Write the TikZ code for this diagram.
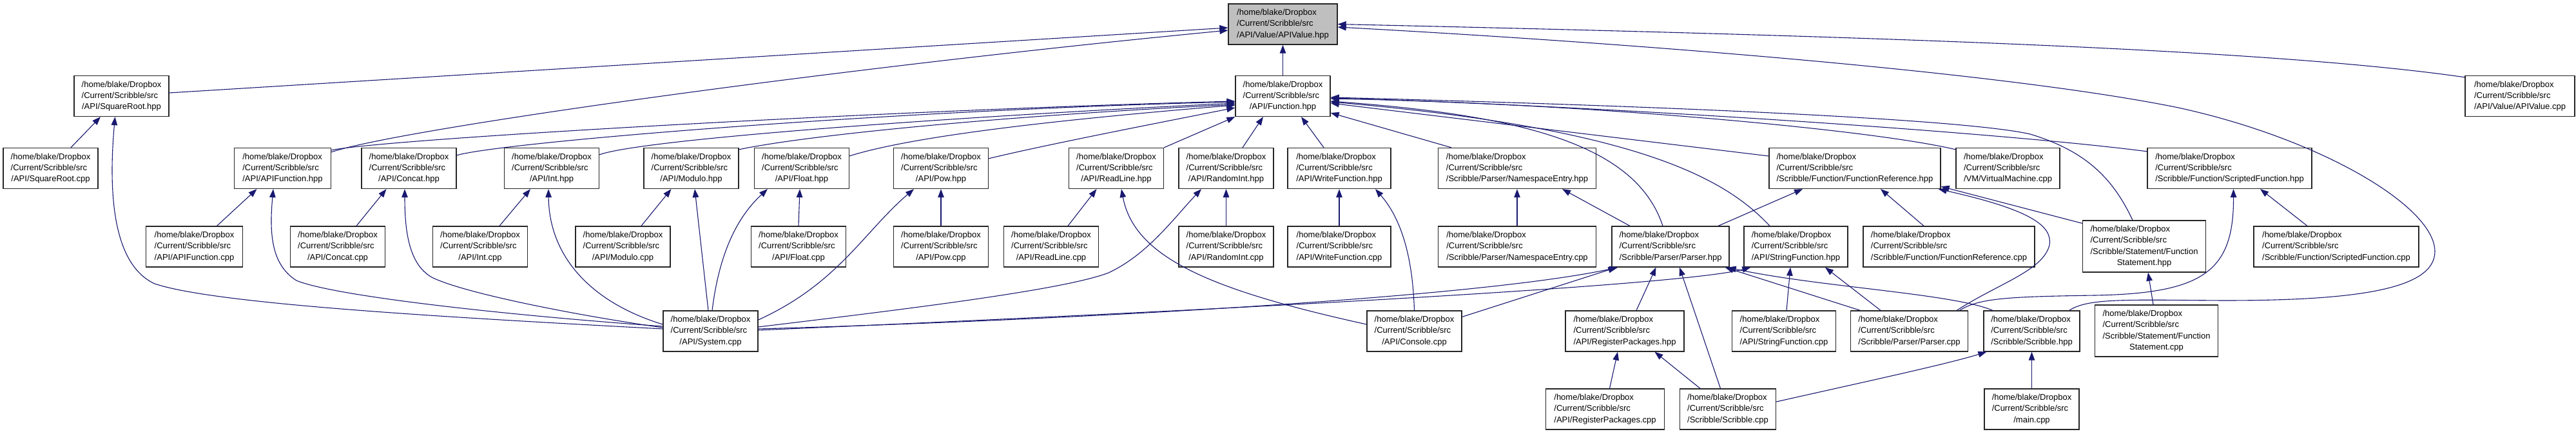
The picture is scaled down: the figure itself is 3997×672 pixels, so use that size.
\documentclass[tikz,border=0pt]{standalone}
\usepackage{fontspec}
\setmainfont{Liberation Sans}
\usetikzlibrary{arrows.meta}
\definecolor{edgec}{RGB}{25,25,112}
\definecolor{hlgray}{RGB}{191,191,191}
\newcommand\flabel[1]{\begin{tabular}{@{}l@{}}/home/blake/Dropbox\\/Current/Scribble/src\\\multicolumn{1}{@{}c@{}}{#1}\end{tabular}}
\newcommand\flabelb[2]{\begin{tabular}{@{}l@{}}/home/blake/Dropbox\\/Current/Scribble/src\\#1\\\multicolumn{1}{@{}c@{}}{#2}\end{tabular}}
\tikzset{
  box/.style={draw=black!85, line width=1.3pt, fill=white, inner sep=0pt, minimum height=63pt,
    font=\fontsize{13}{17.3}\selectfont},
  e/.style={draw=edgec, line width=1.1pt, -{Triangle[length=13pt,width=9.5pt]}, fill=none}
}
\begin{document}
\begin{tikzpicture}[x=1pt,y=-1pt]
\useasboundingbox (0,0) rectangle (3997,672);
% row A
\node[box,minimum width=169pt,fill=hlgray] (vhpp) at (1990.5,37.5) {\flabel{/API/Value/APIValue.hpp}};
% row B
\node[box,minimum width=147pt] (sqh) at (188.5,149) {\flabel{/API/SquareRoot.hpp}};
\node[box,minimum width=147pt] (fnh) at (1990.5,149) {\flabel{/API/Function.hpp}};
\node[box,minimum width=170pt] (vcpp) at (3910,149) {\flabel{/API/Value/APIValue.cpp}};
% row C
\node[box,minimum width=147pt] (sqc) at (78.5,261) {\flabel{/API/SquareRoot.cpp}};
\node[box,minimum width=150pt] (afh) at (438.5,261) {\flabel{/API/APIFunction.hpp}};
\node[box,minimum width=147pt] (cch) at (634.5,261) {\flabel{/API/Concat.hpp}};
\node[box,minimum width=147pt] (inh) at (856,261) {\flabel{/API/Int.hpp}};
\node[box,minimum width=147pt] (moh) at (1072.5,261) {\flabel{/API/Modulo.hpp}};
\node[box,minimum width=147pt] (flh) at (1244,261) {\flabel{/API/Float.hpp}};
\node[box,minimum width=147pt] (pwh) at (1460,261) {\flabel{/API/Pow.hpp}};
\node[box,minimum width=147pt] (rlh) at (1732,261) {\flabel{/API/ReadLine.hpp}};
\node[box,minimum width=147pt] (rih) at (1902.5,261) {\flabel{/API/RandomInt.hpp}};
\node[box,minimum width=160pt] (wfh) at (2078,261) {\flabel{/API/WriteFunction.hpp}};
\node[box,minimum width=245pt] (neh) at (2354,261) {\flabel{/Scribble/Parser/NamespaceEntry.hpp}};
\node[box,minimum width=266pt] (frh) at (2878,261) {\flabel{/Scribble/Function/FunctionReference.hpp}};
\node[box,minimum width=161pt] (vmc) at (3115.5,261) {\flabel{/VM/VirtualMachine.cpp}};
\node[box,minimum width=255pt] (sfh) at (3459.5,261) {\flabel{/Scribble/Function/ScriptedFunction.hpp}};
% row D
\node[box,minimum width=150pt] (afc) at (301.5,382.5) {\flabel{/API/APIFunction.cpp}};
\node[box,minimum width=147pt] (ccc) at (524,382.5) {\flabel{/API/Concat.cpp}};
\node[box,minimum width=147pt] (inc) at (745,382.5) {\flabel{/API/Int.cpp}};
\node[box,minimum width=147pt] (moc) at (966.5,382.5) {\flabel{/API/Modulo.cpp}};
\node[box,minimum width=147pt] (flc) at (1239,382.5) {\flabel{/API/Float.cpp}};
\node[box,minimum width=147pt] (pwc) at (1460,382.5) {\flabel{/API/Pow.cpp}};
\node[box,minimum width=147pt] (rlc) at (1631,382.5) {\flabel{/API/ReadLine.cpp}};
\node[box,minimum width=147pt] (ric) at (1902.5,382.5) {\flabel{/API/RandomInt.cpp}};
\node[box,minimum width=160pt] (wfc) at (2078,382.5) {\flabel{/API/WriteFunction.cpp}};
\node[box,minimum width=245pt] (nec) at (2354,382.5) {\flabel{/Scribble/Parser/NamespaceEntry.cpp}};
\node[box,minimum width=182pt] (pah) at (2592,382.5) {\flabel{/Scribble/Parser/Parser.hpp}};
\node[box,minimum width=161pt] (sth) at (2786.5,382.5) {\flabel{/API/StringFunction.hpp}};
\node[box,minimum width=266pt] (frc) at (3024,382.5) {\flabel{/Scribble/Function/FunctionReference.cpp}};
\node[box,minimum width=191pt,minimum height=80pt] (fsh) at (3327,382) {\flabelb{/Scribble/Statement/Function}{Statement.hpp}};
\node[box,minimum width=256pt] (sfc) at (3625,382.5) {\flabel{/Scribble/Function/ScriptedFunction.cpp}};
% row E
\node[box,minimum width=147pt] (sys) at (1102.5,513.5) {\flabel{/API/System.cpp}};
\node[box,minimum width=147pt] (coc) at (2194.5,513.5) {\flabel{/API/Console.cpp}};
\node[box,minimum width=184pt] (rph) at (2521,513.5) {\flabel{/API/RegisterPackages.hpp}};
\node[box,minimum width=161pt] (stc) at (2768,513.5) {\flabel{/API/StringFunction.cpp}};
\node[box,minimum width=182pt] (pac) at (2962.5,513.5) {\flabel{/Scribble/Parser/Parser.cpp}};
\node[box,minimum width=149pt] (srh) at (3152.5,513.5) {\flabel{/Scribble/Scribble.hpp}};
\node[box,minimum width=191pt,minimum height=80pt] (fsc) at (3346,513) {\flabelb{/Scribble/Statement/Function}{Statement.cpp}};
% row F
\node[box,minimum width=184pt] (rpc) at (2490.5,634.5) {\flabel{/API/RegisterPackages.cpp}};
\node[box,minimum width=149pt] (src) at (2681,634.5) {\flabel{/Scribble/Scribble.cpp}};
\node[box,minimum width=147pt] (mai) at (3152.5,634.5) {\flabel{/main.cpp}};

% edges to APIValue.hpp
\draw[e] ([yshift=5pt]sqh.east) -- ([yshift=-5.5pt]vhpp.west);
\draw[e] ([yshift=-7pt]afh.north east) .. controls (620,200) and (1300,105) .. ([yshift=-9.5pt]vhpp.west);
\draw[e] (fnh.north) -- (vhpp.south);
\draw[e] ([yshift=-3pt]vcpp.north west) .. controls (3550,80) and (3000,58) .. (vhpp.east);
\draw[e] ([xshift=-17pt]srh.north east) .. controls (3240,462) and (3300,465) .. (3450,466)
  .. controls (3650,466) and (3778,450) .. (3778,390)
  .. controls (3778,320) and (3600,215) .. (3380,167)
  .. controls (3100,110) and (2500,65) .. ([yshift=-4.5pt]vhpp.east);
% edges to Function.hpp
\draw[e] ([yshift=-4pt]afh.north east) .. controls (600,215) and (1400,170) .. ([yshift=-8pt]fnh.west);
\draw[e] ([yshift=-12pt]cch.north east) .. controls (780,220) and (1400,170) .. ([yshift=-9pt]fnh.west);
\draw[e] ([yshift=-11pt]inh.north east) .. controls (1000,215) and (1500,180) .. ([yshift=-11pt]fnh.west);
\draw[e] ([yshift=-3pt]moh.north east) .. controls (1250,210) and (1550,180) .. ([yshift=-13pt]fnh.west);
\draw[e] ([yshift=-13pt]flh.north east) .. controls (1420,210) and (1650,185) .. ([yshift=-14pt]fnh.west);
\draw[e] ([yshift=-17pt]pwh.north east) .. controls (1620,225) and (1800,190) .. ([yshift=-18pt]fnh.west);
\draw[e] (rlh.north east) -- (fnh.south west);
\draw[e] ([xshift=25.5pt]rih.north) -- ([xshift=-30.5pt]fnh.south);
\draw[e] ([xshift=-24pt]wfh.north) -- ([xshift=28.5pt]fnh.south);
\draw[e] ([xshift=-102pt]neh.north) -- ([yshift=-26pt]fnh.east);
\draw[e] ([xshift=-12pt]pah.north) .. controls (2540,230) and (2380,180) .. ([yshift=-8pt]fnh.east);
\draw[e] ([xshift=-40.5pt]sth.north) .. controls (2680,280) and (2550,200) .. ([yshift=-9pt]fnh.east);
\draw[e] ([yshift=19pt]frh.west) -- ([yshift=-11pt]fnh.east);
\draw[e] ([yshift=-3pt]vmc.north west) .. controls (2900,200) and (2450,160) .. ([yshift=-4pt]fnh.east);
\draw[e] ([xshift=-18pt]fsh.north) .. controls (3280,280) and (3240,235) .. (3150,208)
  .. controls (3050,185) and (2600,165) .. ([yshift=-2pt]fnh.east);
\draw[e] ([yshift=-6pt]sfh.north west) .. controls (3100,205) and (2500,165) .. ([yshift=-3pt]fnh.east);
% SquareRoot, APIFunction, Concat, Int, Modulo, Float, Pow, ReadLine, RandomInt
\draw[e] ([xshift=31.5pt]sqc.north) -- ([xshift=-32.5pt]sqh.south);
\draw[e] ([yshift=3.5pt]sys.west) .. controls (650,490) and (330,470) .. (240,440)
  .. controls (175,410) and (168,300) .. ([xshift=-10pt]sqh.south);
\draw[e] ([xshift=35pt]afc.north) -- ([xshift=-40pt]afh.south);
\draw[e] ([yshift=7.5pt]sys.west) .. controls (800,490) and (520,460) .. (460,435)
  .. controls (420,410) and (418,360) .. ([xshift=-14.5pt]afh.south);
\draw[e] ([xshift=29pt]ccc.north) -- ([xshift=-35pt]cch.south);
\draw[e] ([yshift=5.5pt]sys.west) .. controls (900,490) and (720,455) .. (670,430)
  .. controls (635,410) and (628,360) .. ([xshift=-6.5pt]cch.south);
\draw[e] ([xshift=30pt]inc.north) -- ([xshift=-33pt]inh.south);
\draw[e] ([yshift=10.5pt]sys.west) .. controls (920,470) and (852,400) .. ([xshift=-5pt]inh.south);
\draw[e] ([xshift=28.5pt]moc.north) -- ([xshift=-31pt]moh.south);
\draw[e] ([xshift=-3.5pt]sys.north) -- ([xshift=5.5pt]moh.south);
\draw[e] (flc.north) -- ([xshift=-3pt]flh.south);
\draw[e] ([xshift=2.5pt]sys.north) .. controls (1115,400) and (1140,340) .. ([xshift=-53pt]flh.south);
\draw[e] (pwc.north) -- (pwh.south);
\draw[e] ([yshift=17.5pt]sys.east) .. controls (1300,440) and (1340,360) .. ([xshift=-42pt]pwh.south);
\draw[e] ([xshift=26pt]rlc.north) -- ([xshift=-30.5pt]rlh.south);
\draw[e] ([yshift=10.5pt]coc.west) .. controls (1880,450) and (1760,400) .. ([xshift=8pt]rlh.south);
\draw[e] (ric.north) -- (rih.south);
\draw[e] ([yshift=6.5pt]sys.east) .. controls (1400,480) and (1650,450) .. (1720,423)
  .. controls (1780,395) and (1820,340) .. ([xshift=-38.5pt]rih.south);
% WriteFunction, NamespaceEntry, FunctionReference, ScriptedFunction, FunctionStatement
\draw[e] (wfc.north) -- (wfh.south);
\draw[e] (coc.north) .. controls (2192,400) and (2175,340) .. ([xshift=56pt]wfh.south);
\draw[e] (nec.north) -- (neh.south);
\draw[e] ([xshift=-63pt]pah.north) -- ([xshift=70pt]neh.south);
\draw[e] ([xshift=74pt]pah.north) -- ([xshift=-81pt]frh.south);
\draw[e] ([xshift=-39pt]frc.north) -- ([xshift=40pt]frh.south);
\draw[e] ([xshift=-18pt]pac.north east) .. controls (3100,440) and (3170,420) .. (3180,380)
  .. controls (3185,350) and (3150,325) .. ([xshift=-4pt]frh.south east);
\draw[e] ([yshift=-5pt]fsh.north west) -- ([yshift=4pt]frh.south east);
\draw[e] ([xshift=-13.5pt]pac.north east) .. controls (3070,462) and (3120,460) .. (3250,458)
  .. controls (3420,455) and (3466,420) .. ([xshift=6pt]sfh.south);
\draw[e] ([xshift=-45pt]sfc.north) -- ([xshift=47.5pt]sfh.south);
\draw[e] ([xshift=-5pt]fsc.north) -- ([xshift=6pt]fsh.south);
% Parser.hpp, StringFunction.hpp
\draw[e] ([yshift=3.5pt]sys.east) .. controls (1700,495) and (2300,460) .. ([xshift=10pt]pah.south west);
\draw[e] ([yshift=1.5pt]sys.east) .. controls (1800,485) and (2600,445) .. ([xshift=11pt]sth.south west);
\draw[e] ([yshift=-10pt]coc.north east) -- ([xshift=8pt]pah.south west);
\draw[e] ([xshift=18pt]rph.north) -- ([xshift=-22.5pt]pah.south);
\draw[e] ([xshift=-11.5pt]src.north) -- ([xshift=14pt]pah.south);
\draw[e] ([xshift=15.5pt]pac.north west) -- ([xshift=-7pt]pah.south east);
\draw[e] ([xshift=14.5pt]srh.north west) .. controls (3030,455) and (2820,445) .. ([xshift=-3pt]pah.south east);
\draw[e] ([xshift=4pt]stc.north) -- ([xshift=-8.5pt]sth.south);
\draw[e] ([xshift=-44.5pt]pac.north) -- ([xshift=45.5pt]sth.south);
% RegisterPackages, Scribble
\draw[e] ([xshift=7pt]rpc.north) -- ([xshift=-11pt]rph.south);
\draw[e] ([xshift=-43pt]src.north) -- ([xshift=46.5pt]rph.south);
\draw[e] ([yshift=11.5pt]src.east) .. controls (2880,595) and (3020,565) .. ([xshift=5pt]srh.south west);
\draw[e] (mai.north) -- (srh.south);
\end{tikzpicture}
\end{document}
